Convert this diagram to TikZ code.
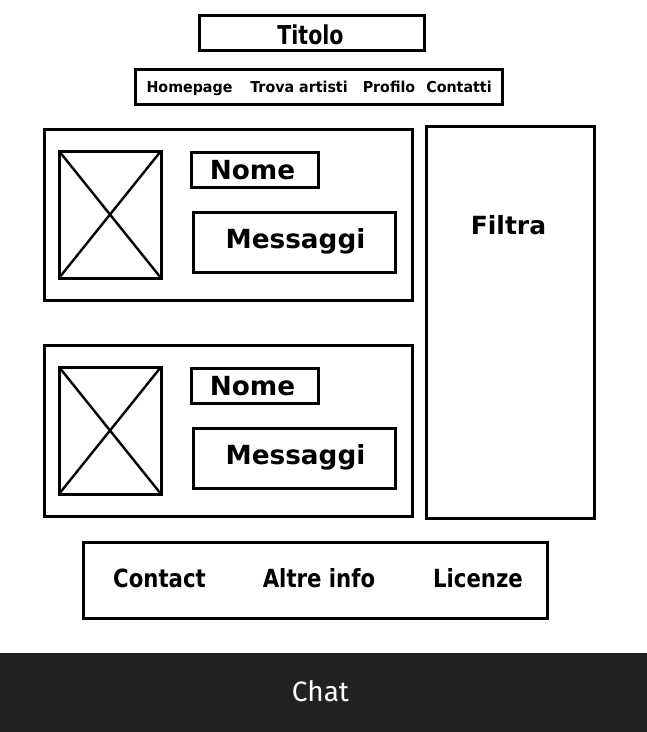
\documentclass[tikz,border=0pt]{standalone}
\usepackage{fontspec}
\setmainfont{DejaVu Sans}
\newfontfamily\chatfont{Fira Sans}
\newfontfamily\titlefont{DejaVu Sans}[FakeStretch=0.79]
\newfontfamily\footfont{DejaVu Sans}[FakeStretch=0.85]
\newfontfamily\navfont{DejaVu Sans}[FakeStretch=0.95]
\definecolor{chatbg}{HTML}{232124}
\tikzset{
  box/.style={draw=black, line width=3pt, inner sep=0pt, outer sep=0pt},
  imgbox/.style={draw=black, line width=3pt, inner sep=0pt, outer sep=0pt},
  cross/.style={line width=2.4pt},
  lbl/.style={anchor=base, inner sep=0pt},
  navlbl/.style={lbl, font=\navfont\bfseries\fontsize{15}{18}\selectfont},
  footlbl/.style={lbl, font=\footfont\bfseries\fontsize{25}{30}\selectfont},
  biglbl/.style={lbl, font=\bfseries\fontsize{26.3}{31}\selectfont},
}
\begin{document}
\begin{tikzpicture}[x=1pt,y=-1pt]
\useasboundingbox (0,0) rectangle (647,732);
% title
\node[box, minimum width=225pt, minimum height=35pt] (title) at (311.5,32.5) {};
\node[lbl, font=\titlefont\bfseries\fontsize{26}{31}\selectfont] (titletext) at (310.5,44) {Titolo};
% nav
\node[box, minimum width=367pt, minimum height=35pt] (nav) at (318.5,86.5) {};
\node[navlbl] (nav1) at (189.5,92.3) {Homepage};
\node[navlbl] (nav2) at (299,92.3) {Trova artisti};
\node[navlbl] (nav3) at (389,92.3) {Profilo};
\node[navlbl] (nav4) at (459,92.3) {Contatti};
% cards
\foreach \i/\dy in {1/0,2/216}{
  \node[box, minimum width=368pt, minimum height=171pt] (card\i) at (228,214.5+\dy) {};
  \node[imgbox, minimum width=102pt, minimum height=127pt] (img\i) at (110,214.5+\dy) {};
  \draw[cross] (img\i.north west) -- (img\i.south east);
  \draw[cross] (img\i.north east) -- (img\i.south west);
  \node[box, minimum width=127pt, minimum height=35pt] (nome\i) at (254.5,169.5+\dy) {};
  \node[biglbl] (nometext\i) at (252.5,179+\dy) {Nome};
  \node[box, minimum width=202pt, minimum height=60pt] (msg\i) at (294,242+\dy) {};
  \node[biglbl] (msgtext\i) at (295.5,248+\dy) {Messaggi};
}
% filter
\node[box, minimum width=168pt, minimum height=392pt] (filtra) at (510,322) {};
\node[lbl, font=\bfseries\fontsize{25}{29}\selectfont] (filtratext) at (508.5,234.3) {Filtra};
% footer
\node[box, minimum width=464pt, minimum height=76pt] (footer) at (315,580) {};
\node[footlbl] (f1) at (159.5,587.7) {Contact};
\node[footlbl] (f2) at (319,587.7) {Altre info};
\node[footlbl] (f3) at (478,587.7) {Licenze};
% chat bar
\node[fill=chatbg, minimum width=647pt, minimum height=79pt, inner sep=0pt, outer sep=0pt, anchor=north west] (chatbar) at (0,653) {};
\node[anchor=base, inner sep=0pt, text=white, font=\chatfont\fontsize{28}{33}\selectfont] (chattext) at (320.5,701.7) {Chat};
\end{tikzpicture}
\end{document}
